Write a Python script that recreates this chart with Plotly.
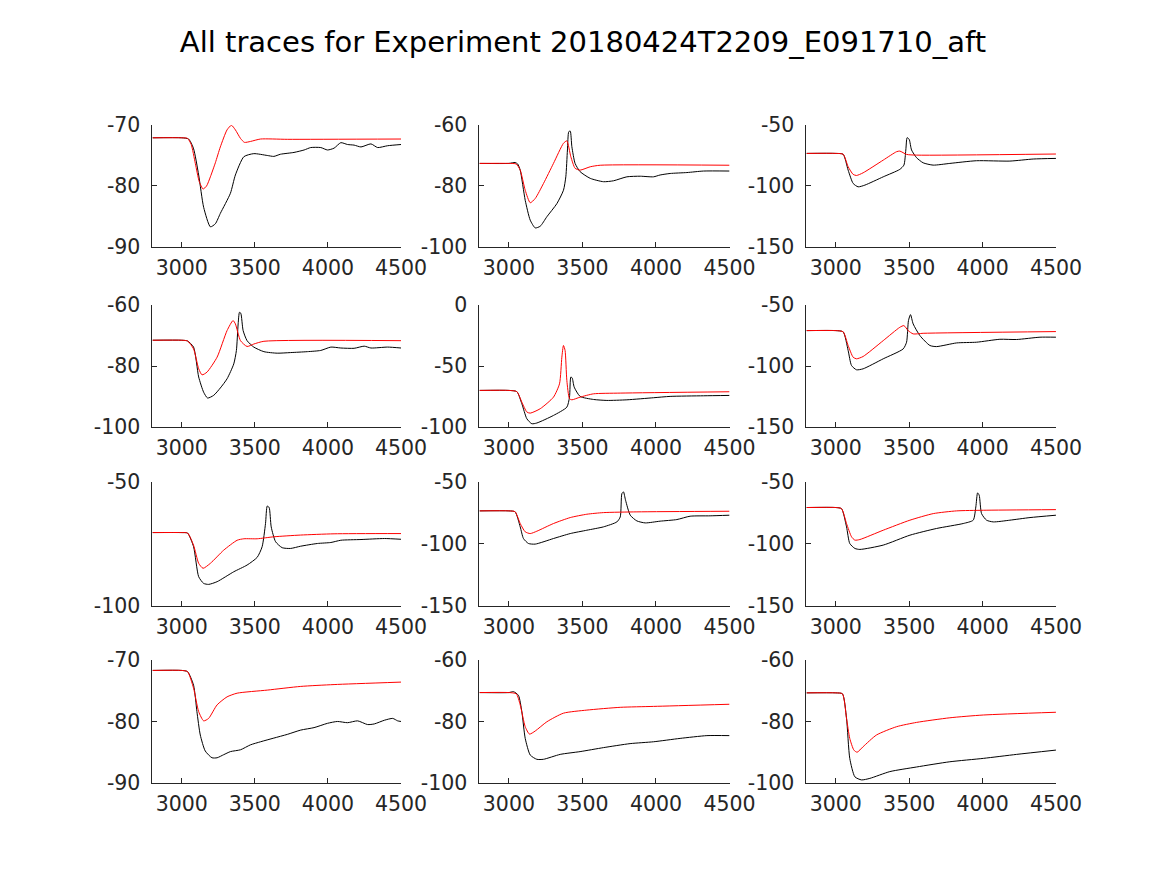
import plotly.graph_objects as go

TITLE = "All traces for Experiment 20180424T2209_E091710_aft"
X_RANGE = [2800, 4500]
X_TICKS = [3000, 3500, 4000, 4500]
TEXT = "#262626"

# values, panel by panel (row-major)
p1_black_x = [2800, 3000, 3047, 3080, 3116, 3150, 3196, 3230, 3264, 3333, 3367, 3425, 3493, 3585, 3630, 3675, 3768, 3837, 3882, 3951, 3997, 4042, 4088, 4134, 4179, 4226, 4294, 4340, 4408, 4500]
p1_black_y = [-72.1, -72.1, -72.3, -73.8, -78.2, -83.5, -86.7, -86.2, -84.5, -81.2, -78.2, -75.2, -74.7, -75.0, -75.15, -74.8, -74.5, -74.1, -73.7, -73.7, -74.1, -73.8, -72.9, -73.2, -73.3, -73.6, -73.1, -73.7, -73.4, -73.2]
p1_red_x = [2800, 3000, 3040, 3065, 3093, 3120, 3146, 3170, 3196, 3230, 3264, 3310, 3340, 3367, 3402, 3429, 3470, 3539, 3722, 4500]
p1_red_y = [-72.1, -72.1, -72.2, -73.2, -76.3, -79.3, -80.5, -80.0, -78.5, -76.2, -73.6, -70.8, -70.05, -70.8, -72.2, -72.85, -72.7, -72.3, -72.35, -72.3]

p2_black_x = [2800, 3000, 3042, 3060, 3077, 3111, 3145, 3179, 3213, 3258, 3326, 3371, 3387, 3398, 3407, 3417, 3428, 3450, 3484, 3553, 3643, 3711, 3802, 3893, 3983, 4028, 4096, 4210, 4323, 4500]
p2_black_y = [-72.6, -72.6, -72.3, -72.8, -74.8, -84.7, -91.2, -93.75, -93.2, -90.1, -85.8, -81.4, -77.0, -68.2, -62.2, -62.0, -67.1, -72.6, -75.3, -77.5, -78.6, -78.3, -77.0, -76.8, -77.0, -76.4, -75.9, -75.6, -75.1, -75.1]
p2_red_x = [2800, 3000, 3050, 3077, 3111, 3145, 3179, 3235, 3303, 3371, 3394, 3421, 3450, 3484, 3553, 3621, 4500]
p2_red_y = [-72.6, -72.6, -72.8, -74.8, -81.4, -85.5, -84.1, -79.2, -72.6, -66.0, -65.2, -70.4, -74.2, -74.8, -73.7, -73.2, -73.2]

p3_black_x = [2800, 3000, 3050, 3084, 3118, 3152, 3198, 3323, 3436, 3464, 3477, 3486, 3500, 3516, 3550, 3595, 3663, 3777, 3959, 4186, 4345, 4500]
p3_black_y = [-73.3, -73.3, -74.0, -87.0, -97.9, -100.7, -99.3, -92.5, -86.4, -82.9, -70.5, -60.4, -61.8, -70.5, -76.8, -81.0, -82.9, -81.5, -79.3, -79.6, -77.9, -77.4]
p3_red_x = [2800, 3000, 3050, 3084, 3118, 3141, 3186, 3323, 3414, 3436, 3482, 3550, 4500]
p3_red_y = [-73.3, -73.3, -74.0, -84.2, -90.5, -91.4, -89.2, -78.8, -71.9, -71.4, -74.1, -74.7, -73.8]

p4_black_x = [2800, 3000, 3040, 3081, 3116, 3150, 3177, 3219, 3264, 3310, 3356, 3374, 3386, 3395, 3404, 3420, 3447, 3493, 3562, 3653, 3745, 3859, 3951, 4020, 4088, 4179, 4248, 4294, 4408, 4500]
p4_black_y = [-71.55, -71.55, -71.8, -73.8, -83.6, -88.6, -90.5, -89.6, -87.2, -84.2, -79.3, -74.9, -66.2, -62.4, -62.7, -68.4, -71.7, -73.8, -75.3, -75.8, -75.6, -75.3, -74.9, -73.8, -74.1, -74.2, -73.5, -74.1, -73.8, -74.1]
p4_red_x = [2800, 3000, 3040, 3081, 3116, 3139, 3173, 3242, 3310, 3351, 3367, 3402, 3447, 3493, 3562, 4500]
p4_red_y = [-71.55, -71.55, -71.8, -74.4, -80.9, -82.9, -82.0, -77.1, -68.4, -65.1, -66.2, -71.7, -73.6, -72.8, -71.9, -71.7]

p5_black_x = [2800, 3000, 3054, 3088, 3122, 3156, 3190, 3303, 3394, 3412, 3421, 3430, 3444, 3484, 3575, 3666, 3802, 3983, 4096, 4323, 4500]
p5_black_y = [-70.0, -70.0, -71.0, -80.9, -93.2, -97.3, -96.7, -90.5, -83.7, -75.5, -59.1, -59.7, -67.3, -74.9, -77.4, -78.2, -77.7, -76.0, -74.9, -74.4, -74.1]
p5_red_x = [2800, 3000, 3054, 3088, 3122, 3145, 3213, 3303, 3344, 3360, 3371, 3382, 3394, 3412, 3428, 3484, 3575, 3757, 4500]
p5_red_y = [-70.0, -70.0, -71.0, -79.6, -87.7, -88.6, -85.0, -75.5, -64.6, -42.8, -33.2, -37.3, -61.9, -76.8, -77.7, -75.5, -72.8, -72.2, -71.1]

p6_black_x = [2800, 3000, 3050, 3084, 3107, 3141, 3186, 3323, 3459, 3482, 3495, 3509, 3527, 3573, 3641, 3686, 3823, 3959, 4118, 4232, 4391, 4500]
p6_black_y = [-71.0, -71.0, -72.0, -87.3, -99.6, -103.1, -102.3, -94.1, -86.0, -80.5, -62.8, -57.9, -65.5, -75.1, -83.2, -84.1, -81.1, -80.5, -78.1, -78.3, -76.4, -76.4]
p6_red_x = [2800, 3000, 3050, 3084, 3118, 3141, 3186, 3323, 3436, 3464, 3493, 3527, 3595, 4500]
p6_red_y = [-71.0, -71.0, -72.0, -83.2, -92.8, -94.1, -92.2, -79.2, -68.3, -66.9, -71.0, -73.7, -73.2, -71.8]

p7_black_x = [2800, 3000, 3040, 3081, 3116, 3150, 3184, 3242, 3356, 3447, 3516, 3550, 3573, 3585, 3598, 3612, 3642, 3687, 3745, 3813, 3928, 4020, 4088, 4226, 4386, 4500]
p7_black_y = [-70.4, -70.4, -70.6, -76.1, -88.2, -90.9, -91.3, -90.2, -86.2, -83.5, -80.4, -76.1, -66.8, -59.7, -60.3, -68.1, -74.1, -76.5, -76.8, -75.9, -74.8, -74.4, -73.5, -73.2, -72.8, -73.1]
p7_red_x = [2800, 3000, 3040, 3081, 3116, 3146, 3196, 3287, 3379, 3425, 3516, 3630, 3813, 4042, 4500]
p7_red_y = [-70.4, -70.4, -70.6, -75.5, -82.8, -84.8, -82.8, -77.5, -73.5, -72.9, -72.9, -72.1, -71.4, -70.9, -70.8]

p8_black_x = [2800, 3000, 3042, 3077, 3099, 3133, 3179, 3303, 3417, 3530, 3643, 3734, 3757, 3768, 3779, 3793, 3825, 3870, 3927, 4028, 4142, 4232, 4368, 4500]
p8_black_y = [-73.3, -73.3, -74.0, -86.2, -95.6, -99.6, -100.1, -95.6, -91.6, -88.9, -86.2, -82.2, -78.2, -59.4, -58.0, -64.7, -76.8, -81.4, -83.0, -81.6, -80.3, -77.6, -77.3, -76.8]
p8_red_x = [2800, 3000, 3042, 3077, 3111, 3145, 3190, 3303, 3417, 3530, 3643, 3870, 4500]
p8_red_y = [-73.3, -73.3, -74.0, -83.5, -90.2, -91.6, -89.7, -83.5, -78.7, -76.0, -74.7, -74.1, -73.6]

p9_black_x = [2800, 3000, 3039, 3073, 3095, 3130, 3164, 3323, 3505, 3686, 3868, 3936, 3954, 3966, 3977, 3993, 4027, 4073, 4186, 4323, 4500]
p9_black_y = [-70.6, -70.6, -71.5, -86.2, -99.6, -103.6, -104.4, -100.9, -92.9, -87.5, -83.5, -80.8, -70.1, -58.8, -60.7, -75.5, -80.8, -82.2, -80.8, -78.7, -76.8]
p9_red_x = [2800, 3000, 3039, 3073, 3107, 3130, 3164, 3323, 3505, 3664, 3823, 4005, 4500]
p9_red_y = [-70.6, -70.6, -71.5, -83.5, -94.2, -96.9, -96.4, -88.9, -80.8, -75.5, -73.3, -72.8, -72.3]

p10_black_x = [2800, 3000, 3040, 3081, 3104, 3127, 3161, 3207, 3242, 3287, 3333, 3402, 3470, 3539, 3630, 3722, 3814, 3905, 3997, 4065, 4134, 4203, 4271, 4317, 4386, 4443, 4477, 4500]
p10_black_y = [-71.7, -71.7, -71.9, -74.1, -78.4, -82.2, -84.8, -85.9, -85.9, -85.4, -84.9, -84.6, -83.8, -83.3, -82.7, -82.1, -81.4, -81.0, -80.3, -80.0, -80.2, -79.9, -80.5, -80.4, -79.8, -79.5, -79.9, -80.0]
p10_red_x = [2800, 3000, 3040, 3081, 3116, 3150, 3184, 3242, 3310, 3379, 3585, 3814, 4042, 4500]
p10_red_y = [-71.7, -71.7, -71.9, -74.6, -78.4, -79.9, -79.5, -77.3, -76.0, -75.4, -74.9, -74.3, -74.0, -73.6]

p11_black_x = [2800, 3000, 3031, 3065, 3088, 3111, 3145, 3190, 3235, 3349, 3484, 3643, 3824, 3983, 4164, 4346, 4500]
p11_black_y = [-70.6, -70.6, -70.3, -71.5, -76.8, -85.5, -90.9, -92.3, -92.3, -90.7, -89.8, -88.5, -87.2, -86.6, -85.5, -84.6, -84.6]
p11_red_x = [2800, 3000, 3050, 3077, 3111, 3140, 3179, 3258, 3371, 3530, 3757, 3983, 4500]
p11_red_y = [-70.6, -70.6, -71.0, -74.6, -81.7, -84.1, -83.1, -80.1, -77.3, -76.3, -75.4, -75.1, -74.4]

p12_black_x = [2800, 3000, 3045, 3073, 3095, 3130, 3175, 3232, 3368, 3550, 3777, 4005, 4232, 4500]
p12_black_y = [-70.7, -70.7, -71.0, -79.0, -92.0, -98.0, -99.0, -98.5, -96.3, -94.8, -93.1, -92.0, -90.7, -89.3]
p12_red_x = [2800, 3000, 3045, 3073, 3095, 3123, 3145, 3186, 3277, 3414, 3550, 3777, 4005, 4500]
p12_red_y = [-70.7, -70.7, -71.0, -79.0, -85.5, -89.3, -90.0, -88.2, -84.4, -81.7, -80.3, -78.8, -77.9, -77.0]

# y ticks of each panel (first and last are the axis limits)
y_ticks = [
    [-90, -80, -70], [-100, -80, -60], [-150, -100, -50],
    [-100, -80, -60], [-100, -50, 0], [-150, -100, -50],
    [-100, -50], [-150, -100, -50], [-150, -100, -50],
    [-90, -80, -70], [-100, -80, -60], [-100, -80, -60],
]

panels = [
    (p1_black_x, p1_black_y, p1_red_x, p1_red_y),
    (p2_black_x, p2_black_y, p2_red_x, p2_red_y),
    (p3_black_x, p3_black_y, p3_red_x, p3_red_y),
    (p4_black_x, p4_black_y, p4_red_x, p4_red_y),
    (p5_black_x, p5_black_y, p5_red_x, p5_red_y),
    (p6_black_x, p6_black_y, p6_red_x, p6_red_y),
    (p7_black_x, p7_black_y, p7_red_x, p7_red_y),
    (p8_black_x, p8_black_y, p8_red_x, p8_red_y),
    (p9_black_x, p9_black_y, p9_red_x, p9_red_y),
    (p10_black_x, p10_black_y, p10_red_x, p10_red_y),
    (p11_black_x, p11_black_y, p11_red_x, p11_red_y),
    (p12_black_x, p12_black_y, p12_red_x, p12_red_y),
]

# axes boxes in figure fractions (page body adds an 8px offset)
col_domains = [[0.1238, 0.3368], [0.4040, 0.6183], [0.6842, 0.8980]]
row_domains = [[0.7269, 0.8663], [0.5211, 0.6606], [0.3166, 0.4583], [0.1143, 0.2549]]

fig = go.Figure()
layout = {}

for i, (bx, by, rx, ry) in enumerate(panels):
    row, col = divmod(i, 3)
    n = "" if i == 0 else str(i + 1)
    xa, ya = "x" + n, "y" + n

    fig.add_trace(go.Scatter(x=bx, y=by, mode="lines", xaxis=xa, yaxis=ya,
                             line=dict(color="black", width=1, shape="spline", smoothing=0.6),
                             showlegend=False, hoverinfo="skip"))
    fig.add_trace(go.Scatter(x=rx, y=ry, mode="lines", xaxis=xa, yaxis=ya,
                             line=dict(color="red", width=1, shape="spline", smoothing=0.6),
                             showlegend=False, hoverinfo="skip"))

    ticks = y_ticks[i]
    common = dict(showline=True, linecolor=TEXT, linewidth=1, mirror=False,
                  showgrid=False, zeroline=False, ticks="inside", ticklen=5,
                  tickcolor=TEXT, tickfont=dict(size=20.5, color=TEXT),
                  automargin=False)
    layout["xaxis" + n] = dict(domain=col_domains[col], anchor=ya, range=X_RANGE,
                               tickvals=X_TICKS, ticktext=[str(t) for t in X_TICKS],
                               ticklabelstandoff=2, **common)
    layout["yaxis" + n] = dict(domain=row_domains[row], anchor=xa, range=[ticks[0], ticks[-1]],
                               tickvals=ticks, ticktext=[str(t) for t in ticks],
                               ticklabelstandoff=7, **common)

fig.update_layout(
    **layout,
    width=1167,
    height=875,
    margin=dict(l=0, r=0, t=0, b=0),
    paper_bgcolor="white",
    plot_bgcolor="white",
    font=dict(family="DejaVu Sans", color=TEXT),
    title=dict(text=TITLE, x=0.4927, xanchor="center", y=0.961, yanchor="middle",
               font=dict(size=29, color="black")),
)

fig.write_html("out.html")
